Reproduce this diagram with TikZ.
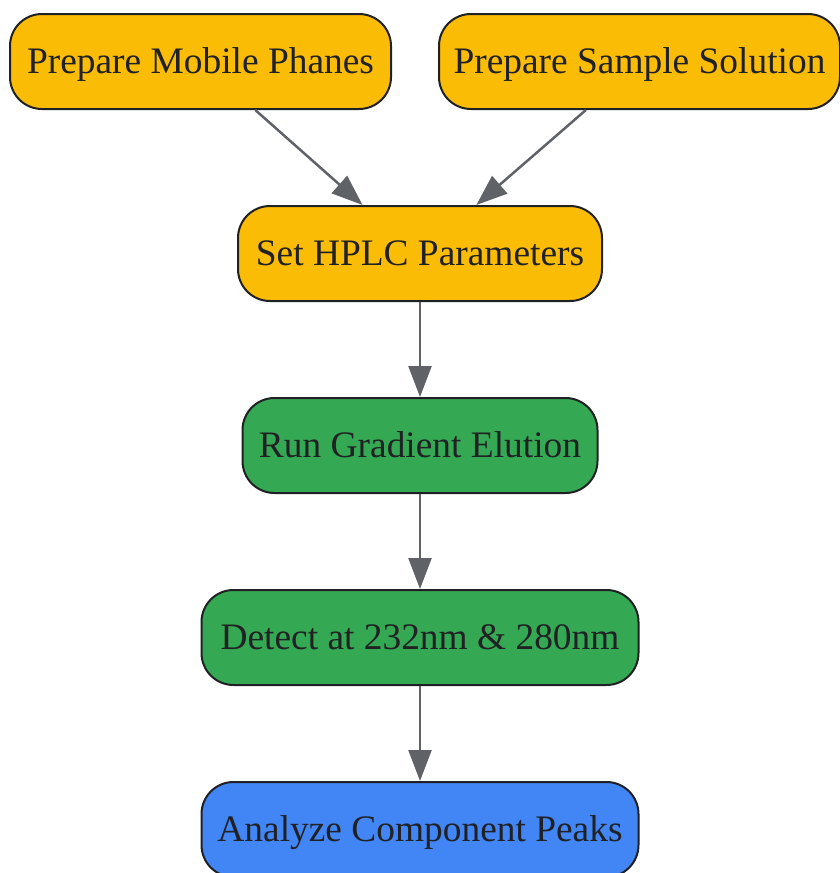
\documentclass[tikz,border=0pt]{standalone}
\usepackage{fontspec}
\setmainfont{Liberation Serif}
\usetikzlibrary{arrows.meta,calc}
\definecolor{gyellow}{HTML}{FBBC05}
\definecolor{ggreen}{HTML}{34A853}
\definecolor{gblue}{HTML}{4285F4}
\definecolor{gdark}{HTML}{202124}
\definecolor{ggray}{HTML}{5F6368}
\tikzset{
  stepbox/.style={draw=gdark, line width=2pt, rounded corners=32pt, minimum height=95pt,
    inner sep=0pt, text=gdark, font=\fontsize{37.4}{44}\selectfont,
    text height=24.8pt, text depth=0pt},
  yel/.style={stepbox, fill=gyellow},
  grn/.style={stepbox, fill=ggreen},
  blu/.style={stepbox, fill=gblue},
  conn/.style={draw=ggray, line width=2.5pt, -{Triangle[length=31pt,width=23pt]}}
}
\begin{document}
\begin{tikzpicture}[x=1pt,y=-1pt]
\useasboundingbox (0,0) rectangle (839,873);
\node[yel, minimum width=381pt] (n1) at (200.5,61.5) {Prepare Mobile Phanes};
\node[yel, minimum width=401pt] (n2) at (639.5,61.5) {Prepare Sample Solution};
\node[yel, minimum width=364pt] (n3) at (420,253.5) {Set HPLC Parameters};
\node[grn, minimum width=355pt] (n4) at (420,445.5) {Run Gradient Elution};
\node[grn, minimum width=437pt] (n5) at (420,637.5) {Detect at 232nm \& 280nm};
\node[blu, minimum width=437pt] (n6) at (420,829.5) {Analyze Component Peaks};
\draw[conn] ($(n1.south west)!0.643!(n1.south east)$) -- ($(n3.north west)!0.343!(n3.north east)$);
\draw[conn] ($(n2.south west)!0.367!(n2.south east)$) -- ($(n3.north west)!0.654!(n3.north east)$);
\draw[conn] (n3) -- (n4);
\draw[conn] (n4) -- (n5);
\draw[conn] (n5) -- (n6);
\end{tikzpicture}
\end{document}
